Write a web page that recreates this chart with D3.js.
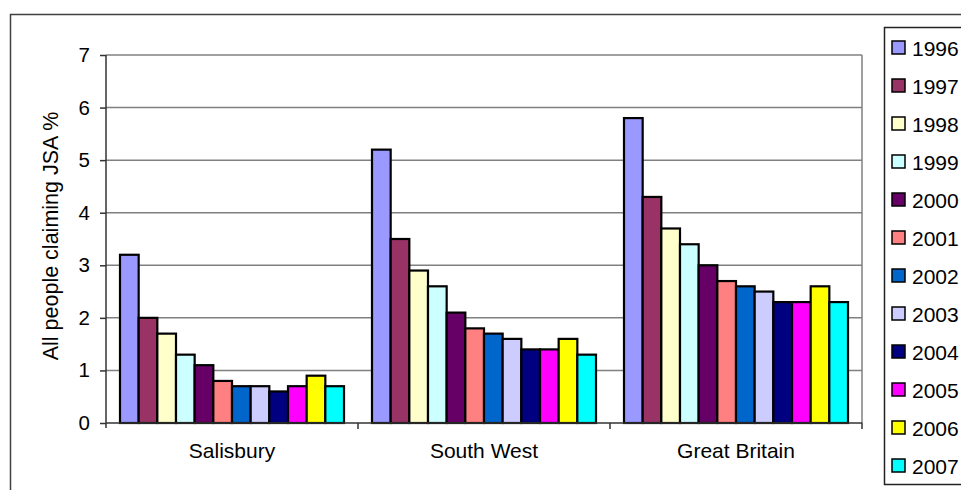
<!DOCTYPE html>
<html>
<head>
<meta charset="utf-8">
<script src="https://cdn.jsdelivr.net/npm/d3@7"></script>
<style>
  html, body { margin: 0; padding: 0; background: #fff; }
  svg { display: block; font-family: Arial, "Liberation Sans", sans-serif; }
</style>
</head>
<body>
<svg id="chart" width="961" height="490"></svg>
<script>
// Claimant rates (JSA %) by area and year
const categories = ["Salisbury", "South West", "Great Britain"];
const years = ["1996", "1997", "1998", "1999", "2000", "2001", "2002", "2003", "2004", "2005", "2006", "2007"];
const salisbury   = [3.2, 2.0, 1.7, 1.3, 1.1, 0.8, 0.7, 0.7, 0.6, 0.7, 0.9, 0.7];
const southWest   = [5.2, 3.5, 2.9, 2.6, 2.1, 1.8, 1.7, 1.6, 1.4, 1.4, 1.6, 1.3];
const greatBritain = [5.8, 4.3, 3.7, 3.4, 3.0, 2.7, 2.6, 2.5, 2.3, 2.3, 2.6, 2.3];
const yTicks = [0, 1, 2, 3, 4, 5, 6, 7];
const yLabel = "All people claiming JSA %";

const seriesByArea = [salisbury, southWest, greatBritain];
const colors = ["#9999FF", "#993366", "#FFFFCC", "#CCFFFF", "#660066", "#FF8080",
                "#0066CC", "#CCCCFF", "#000080", "#FF00FF", "#FFFF00", "#00FFFF"];

const svg = d3.select("#chart");

// outer chart frame (runs off the right and bottom edges)
svg.append("rect")
  .attr("x", 10.5).attr("y", 14.5).attr("width", 980).attr("height", 500)
  .attr("fill", "#fff").attr("stroke", "#404040").attr("stroke-width", 1.5);

const plot = { left: 106, right: 862, top: 55, bottom: 423 };

const x0 = d3.scaleBand().domain(categories).range([plot.left, plot.right]).paddingInner(0).paddingOuter(0);
const x1 = d3.scaleBand().domain(years).range([0, x0.bandwidth()]).paddingOuter(0.75).paddingInner(0);
const y = d3.scaleLinear().domain([0, 7]).range([plot.bottom, plot.top]);

// gridlines
svg.append("g").selectAll("line").data(yTicks.filter(d => d > 0)).join("line")
  .attr("x1", plot.left).attr("x2", plot.right)
  .attr("y1", d => y(d)).attr("y2", d => y(d))
  .attr("stroke", "#808080").attr("stroke-width", 1.5);

// right edge of plot area
svg.append("line")
  .attr("x1", plot.right).attr("x2", plot.right)
  .attr("y1", plot.top).attr("y2", plot.bottom)
  .attr("stroke", "#808080").attr("stroke-width", 1.5);

// bars
const groups = svg.append("g").selectAll("g").data(categories).join("g")
  .attr("transform", d => `translate(${x0(d)},0)`);

groups.selectAll("rect")
  .data((c, i) => seriesByArea[i].map((v, j) => ({ year: years[j], value: v, color: colors[j] })))
  .join("rect")
  .attr("x", d => x1(d.year))
  .attr("y", d => y(d.value))
  .attr("width", x1.bandwidth())
  .attr("height", d => y(0) - y(d.value))
  .attr("fill", d => d.color)
  .attr("stroke", "#000").attr("stroke-width", 2.2);

// y axis
const yAxis = svg.append("g")
  .attr("transform", `translate(${plot.left},0)`)
  .call(d3.axisLeft(y).tickValues(yTicks).tickSize(6).tickPadding(10).tickFormat(d3.format("d")));
yAxis.select(".domain").attr("stroke", "#333").attr("stroke-width", 1.5)
  .attr("d", `M0,${plot.top}V${plot.bottom + 5}`);
yAxis.selectAll(".tick line").attr("stroke", "#333").attr("stroke-width", 1.5);
yAxis.selectAll(".tick text").attr("font-size", 20.5).attr("fill", "#000")
  .attr("font-family", "Arial, 'Liberation Sans', sans-serif");

// x axis
const xAxis = svg.append("g")
  .attr("transform", `translate(0,${plot.bottom})`)
  .call(d3.axisBottom(x0).tickSize(0).tickPadding(20));
xAxis.select(".domain").attr("stroke", "#333").attr("stroke-width", 1.5)
  .attr("d", `M${plot.left},0H${plot.right}`);
xAxis.selectAll(".tick text").attr("font-size", 21).attr("fill", "#000")
  .attr("font-family", "Arial, 'Liberation Sans', sans-serif");

// category separators
const seps = categories.map(c => x0(c)).slice(1).concat([plot.right]);
svg.append("g").selectAll("line").data(seps).join("line")
  .attr("x1", d => d).attr("x2", d => d)
  .attr("y1", plot.bottom).attr("y2", plot.bottom + 6)
  .attr("stroke", "#333").attr("stroke-width", 1.5);

// y axis title
svg.append("text")
  .attr("transform", `translate(58,${(plot.top + plot.bottom) / 2 - 3}) rotate(-90)`)
  .attr("text-anchor", "middle")
  .attr("font-size", 21.5)
  .attr("fill", "#000")
  .text(yLabel);

// legend
const legend = svg.append("g");
legend.append("rect")
  .attr("x", 884.5).attr("y", 27.5).attr("width", 120).attr("height", 457)
  .attr("fill", "#fff").attr("stroke", "#222").attr("stroke-width", 1.5);

const ly = d3.scalePoint().domain(years).range([48, 466]);
const items = legend.selectAll("g.item").data(years).join("g")
  .attr("class", "item")
  .attr("transform", d => `translate(0,${ly(d)})`);
items.append("rect")
  .attr("x", 892).attr("y", -7).attr("width", 13).attr("height", 13)
  .attr("fill", (d, i) => colors[i]).attr("stroke", "#000").attr("stroke-width", 1.5);
items.append("text")
  .attr("x", 912).attr("y", 7.5)
  .attr("font-size", 21).attr("fill", "#000")
  .text(d => d);
</script>
</body>
</html>
